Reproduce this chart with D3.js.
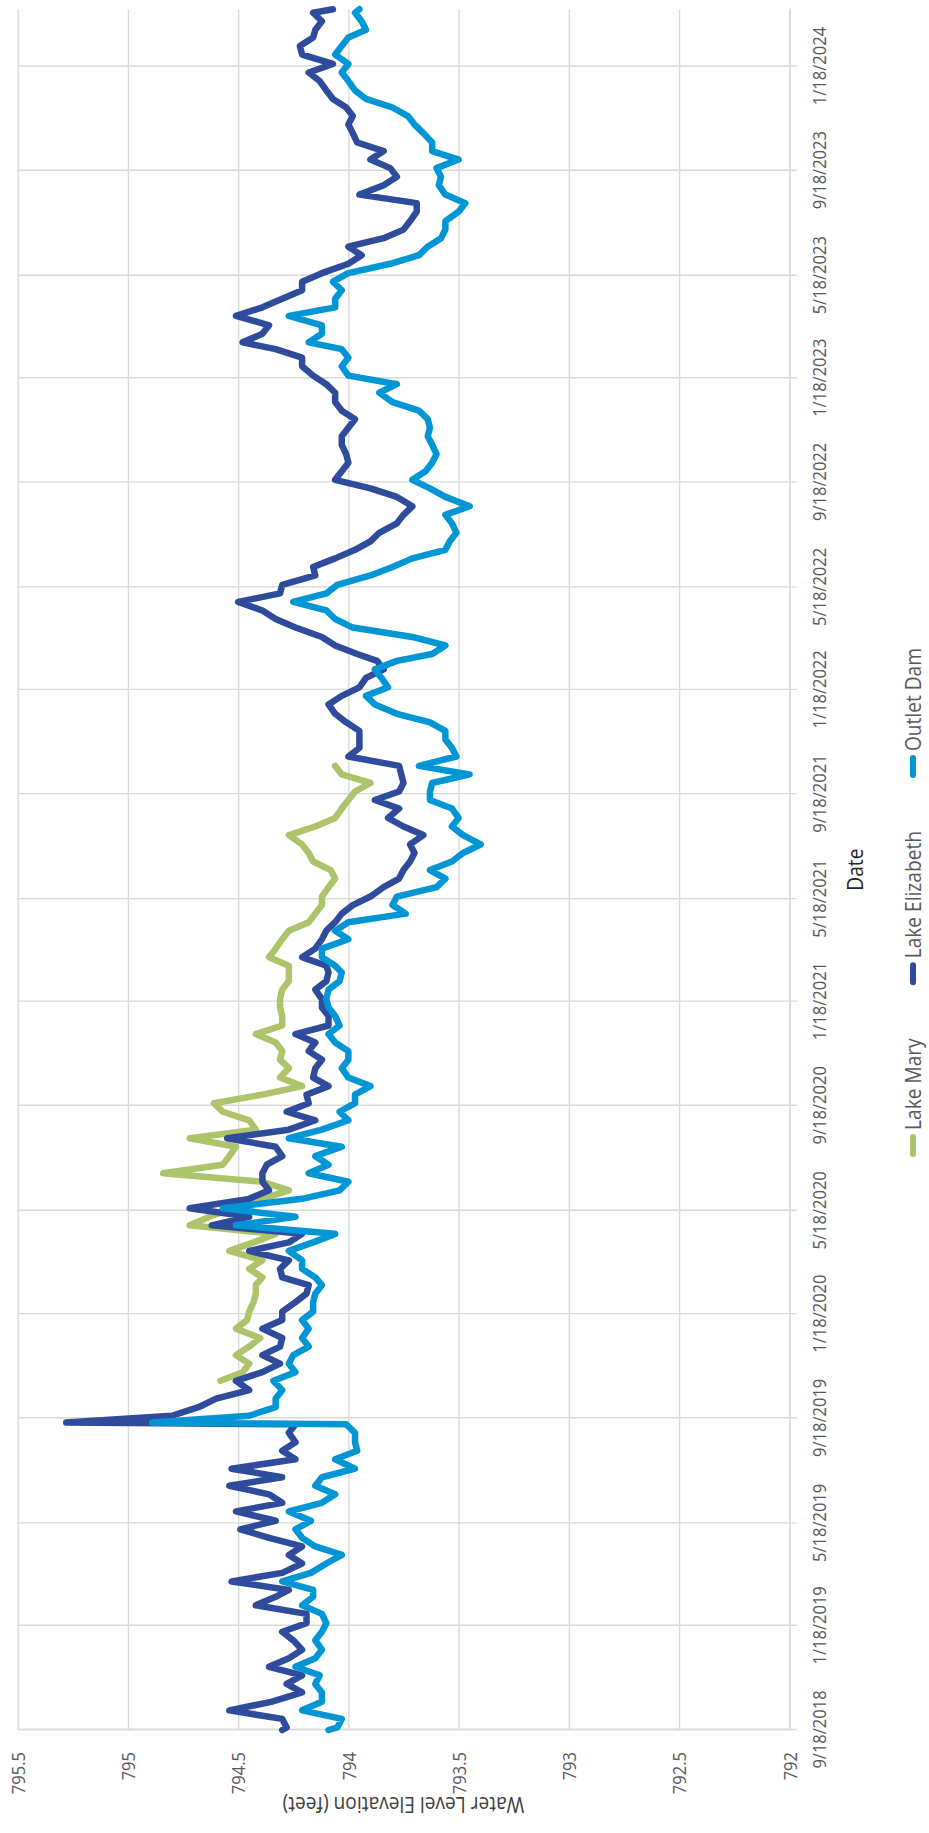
<!DOCTYPE html>
<html><head><meta charset="utf-8">
<script src="https://cdn.jsdelivr.net/npm/d3@7"></script>
<style>html,body{margin:0;padding:0;background:#fff;} svg{display:block}</style>
</head><body>
<svg id="chart" width="929" height="1833"></svg>
<script>
// ---------------- data ----------------
const seriesNames = ["Lake Mary", "Lake Elizabeth", "Outlet Dam"];
const dateDomain = ["2018-09-18", "2024-03-25"];
const valueDomain = [792, 795.5];
const valueTicks = [792, 792.5, 793, 793.5, 794, 794.5, 795, 795.5];
const dateTicks = ["2018-09-18","2019-01-18","2019-05-18","2019-09-18","2020-01-18","2020-05-18","2020-09-18",
  "2021-01-18","2021-05-18","2021-09-18","2022-01-18","2022-05-18","2022-09-18","2023-01-18","2023-05-18",
  "2023-09-18","2024-01-18"];

const dates = [
 "2018-09-18","2018-09-21","2018-10-01","2018-10-11","2018-10-21","2018-11-01","2018-11-11","2018-11-21","2018-12-01","2018-12-11","2018-12-21",
 "2019-01-01","2019-01-11","2019-01-21","2019-02-01","2019-02-11","2019-02-21","2019-03-01","2019-03-11","2019-03-21","2019-04-01","2019-04-11","2019-04-21",
 "2019-05-01","2019-05-11","2019-05-21","2019-06-01","2019-06-11","2019-06-21","2019-07-01","2019-07-11","2019-07-21","2019-08-01","2019-08-11","2019-08-21",
 "2019-09-01","2019-09-11","2019-09-13","2019-09-21","2019-10-01","2019-10-11","2019-10-21","2019-11-01","2019-11-11","2019-11-21","2019-12-01","2019-12-11","2019-12-21",
 "2020-01-01","2020-01-11","2020-01-21","2020-02-01","2020-02-11","2020-02-21","2020-03-01","2020-03-11","2020-03-21","2020-04-01","2020-04-11","2020-04-21",
 "2020-05-01","2020-05-11","2020-05-21","2020-06-01","2020-06-11","2020-06-21","2020-07-01","2020-07-11","2020-07-21","2020-08-01","2020-08-11","2020-08-21",
 "2020-09-01","2020-09-11","2020-09-21","2020-10-01","2020-10-11","2020-10-21","2020-11-01","2020-11-11","2020-11-21","2020-12-01","2020-12-11","2020-12-21",
 "2021-01-01","2021-01-11","2021-01-21","2021-02-01","2021-02-11","2021-02-21","2021-03-01","2021-03-11","2021-03-21","2021-04-01","2021-04-11","2021-04-21",
 "2021-05-01","2021-05-11","2021-05-21","2021-06-01","2021-06-11","2021-06-21","2021-07-01","2021-07-11","2021-07-21","2021-08-01","2021-08-11","2021-08-21",
 "2021-09-01","2021-09-11","2021-09-21","2021-10-01","2021-10-11","2021-10-21","2021-11-01","2021-11-11","2021-11-21","2021-12-01","2021-12-11","2021-12-21",
 "2022-01-01","2022-01-11","2022-01-21","2022-02-01","2022-02-11","2022-02-21","2022-03-01","2022-03-11","2022-03-21","2022-04-01","2022-04-11","2022-04-21",
 "2022-05-01","2022-05-11","2022-05-21","2022-06-01","2022-06-11","2022-06-21","2022-07-01","2022-07-11","2022-07-21","2022-08-01","2022-08-11","2022-08-21",
 "2022-09-01","2022-09-11","2022-09-21","2022-10-01","2022-10-11","2022-10-21","2022-11-01","2022-11-11","2022-11-21","2022-12-01","2022-12-11","2022-12-21",
 "2023-01-01","2023-01-11","2023-01-21","2023-02-01","2023-02-11","2023-02-21","2023-03-01","2023-03-11","2023-03-21","2023-04-01","2023-04-11","2023-04-21",
 "2023-05-01","2023-05-11","2023-05-21","2023-06-01","2023-06-11","2023-06-21","2023-07-01","2023-07-11","2023-07-21","2023-08-01","2023-08-11","2023-08-21",
 "2023-09-01","2023-09-11","2023-09-21","2023-10-01","2023-10-11","2023-10-21","2023-11-01","2023-11-11","2023-11-21","2023-12-01","2023-12-11","2023-12-21",
 "2024-01-01","2024-01-11","2024-01-21","2024-02-01","2024-02-11","2024-02-21","2024-03-01","2024-03-11","2024-03-21","2024-03-25"
];

const lakeMary = [
 null,null,null,null,null,null,null,null,null,null,null,
 null,null,null,null,null,null,null,null,null,null,null,null,null,null,null,null,null,null,null,null,null,null,null,null,
 null,null,null,null,null,null,null,794.58,794.48,794.45,794.51,794.45,794.40,
 794.51,794.46,794.45,794.43,794.42,794.42,794.39,794.45,794.39,794.54,794.43,794.33,
 794.72,794.63,794.52,794.39,794.27,794.39,794.84,794.57,794.54,794.51,794.72,794.42,
 794.45,794.57,794.61,794.39,794.21,794.31,794.27,794.31,794.30,794.33,794.42,794.30,
 794.30,794.31,794.31,794.30,794.27,794.27,794.27,794.36,794.33,794.30,794.27,794.18,
 794.15,794.12,794.12,794.09,794.06,794.08,794.16,794.18,794.21,794.27,794.15,794.06,
 794.03,794.00,793.97,793.90,794.03,794.06,null,null,null,null,null,null,
 null,null,null,null,null,null,null,null,null,null,null,null,null,null,null,null,null,null,
 null,null,null,null,null,null,null,null,null,null,null,null,null,null,null,null,null,null,
 null,null,null,null,null,null,null,null,null,null,null,null,null,null,null,null,null,null,
 null,null,null,null,null,null,null,null,null,null,null,null,null,null,null,null,null,null,
 null,null,null,null,null,null,null,null,null,null
];

const lakeElizabeth = [
 794.30,794.28,794.30,794.54,794.35,794.21,794.28,794.21,794.36,794.27,794.21,
 794.25,794.30,794.19,794.19,794.42,794.33,794.27,794.53,794.30,794.21,794.27,794.21,
 794.36,794.49,794.33,794.51,794.30,794.36,794.54,794.30,794.53,794.24,794.30,794.24,
 794.27,794.24,795.28,794.80,794.68,794.60,794.45,794.51,794.39,794.31,794.39,794.31,794.30,
 794.39,794.30,794.30,794.24,794.19,794.18,794.30,794.31,794.27,794.45,794.27,794.21,
 794.62,794.45,794.72,794.45,794.36,794.39,794.39,794.37,794.30,794.33,794.55,794.27,
 794.15,794.28,794.18,794.19,794.09,794.16,794.15,794.12,794.18,794.15,794.24,794.09,
 794.09,794.12,794.12,794.15,794.10,794.09,794.10,794.21,794.15,794.12,794.10,794.06,
 794.03,793.98,793.90,793.84,793.77,793.75,793.72,793.70,793.72,793.66,793.75,793.82,
 793.77,793.88,793.77,793.75,793.76,793.77,794.00,793.95,793.95,793.95,794.01,794.06,
 794.09,794.03,793.95,793.92,793.84,793.87,793.96,794.06,794.12,794.24,794.33,794.39,
 794.50,794.31,794.30,794.15,794.16,794.06,793.97,793.90,793.86,793.78,793.75,793.71,
 793.78,793.90,794.06,794.03,794.00,794.01,794.03,794.03,794.00,793.97,794.03,794.06,
 794.06,794.10,794.16,794.21,794.21,794.33,794.48,794.39,794.36,794.51,794.39,794.30,
 794.21,794.21,794.12,794.00,793.94,794.00,793.84,793.75,793.72,793.69,793.69,793.95,
 793.84,793.78,793.81,793.90,793.84,793.96,793.98,794.00,793.98,794.01,794.07,794.10,
 794.13,794.18,794.07,794.21,794.22,794.16,794.15,794.12,794.16,794.07
];

const outletDam = [
 794.09,794.05,794.03,794.21,794.12,794.12,794.15,794.13,794.24,794.15,794.12,
 794.15,794.12,794.10,794.12,794.21,794.16,794.16,794.30,794.17,794.10,794.03,794.15,
 794.21,794.24,794.17,794.27,794.12,794.06,794.15,794.12,793.97,794.06,793.96,793.97,
 793.97,794.01,794.89,794.45,794.33,794.33,794.30,794.34,794.24,794.27,794.25,794.18,794.21,
 794.18,794.21,794.16,794.16,794.15,794.12,794.15,794.21,794.21,794.27,794.16,794.06,
 794.51,794.24,794.57,794.21,794.04,794.00,794.18,794.09,794.15,794.03,794.27,794.12,
 794.00,794.04,793.97,793.97,793.90,794.00,794.03,794.00,794.00,794.06,794.09,794.04,
 794.06,794.09,794.10,794.09,794.04,794.03,794.06,794.12,794.12,794.00,794.06,794.00,
 793.74,793.80,793.78,793.60,793.56,793.63,793.53,793.48,793.40,793.48,793.53,793.50,
 793.53,793.63,793.63,793.62,793.45,793.68,793.51,793.53,793.56,793.56,793.63,793.78,
 793.88,793.92,793.82,793.85,793.88,793.78,793.62,793.56,793.71,793.98,794.06,794.10,
 794.25,794.10,794.05,793.90,793.80,793.71,793.56,793.54,793.51,793.53,793.56,793.45,
 793.56,793.63,793.71,793.65,793.62,793.60,793.62,793.64,793.63,793.64,793.68,793.80,
 793.86,793.78,794.00,794.03,794.00,794.03,794.18,794.12,794.12,794.27,794.06,794.06,
 794.03,794.07,794.00,793.81,793.68,793.64,793.58,793.56,793.56,793.50,793.47,793.56,
 793.59,793.58,793.60,793.50,793.62,793.62,793.66,793.70,793.73,793.80,793.92,793.97,
 794.00,794.03,794.00,794.06,794.03,794.00,793.92,793.94,793.97,793.95
];

// ---------------- drawing ----------------
const seriesValues = [lakeMary, lakeElizabeth, outletDam];
const seriesColors = ["#AEC46A", "#2F4B9C", "#0096D6"];

const W = 1833;            // chart drawn in an unrotated 1833 x 929 frame, then turned
const plot = {left: 103, right: 1823.7, top: 17.7, bottom: 789.3};
const FONT = "'Open Sans', 'Noto Sans', sans-serif";
const SX = 0.87;           // narrow glyphs as in the reference
const GRID = "#d9d9d9";

const parse = d3.utcParse("%Y-%m-%d");
const x = d3.scaleUtc().domain(dateDomain.map(parse)).range([plot.left, plot.right]);
const y = d3.scaleLinear().domain(valueDomain).range([plot.bottom, plot.top]);

const svg = d3.select("#chart");
svg.append("rect").attr("width", 929).attr("height", 1833).attr("fill", "#fff");
const g = svg.append("g").attr("transform", `translate(0,${W}) rotate(-90)`);

// value axis + horizontal gridlines
const gy = g.append("g").attr("transform", `translate(${plot.left},0)`)
  .call(d3.axisLeft(y).tickValues(valueTicks).tickFormat(d => String(d))
    .tickSizeInner(-(plot.right - plot.left)).tickSizeOuter(0).tickPadding(0));
gy.select(".domain").attr("stroke", GRID).attr("stroke-width", 1.4);
gy.selectAll(".tick line").attr("stroke", GRID).attr("stroke-width", 1.4);
gy.selectAll(".tick text")
  .attr("x", null).attr("dy", null)
  .attr("transform", `translate(${81 - plot.left},6.8) scale(${SX},1)`)
  .attr("text-anchor", "end").attr("fill", "#595959")
  .style("font-family", FONT).style("font-size", "19px").style("font-weight", 400);

// date axis + vertical gridlines
const gx = g.append("g").attr("transform", `translate(0,${plot.bottom})`)
  .call(d3.axisBottom(x).tickValues(dateTicks.map(parse)).tickFormat(d3.utcFormat("%-m/%-d/%Y"))
    .tickSizeInner(-(plot.bottom - plot.top)).tickSizeOuter(0));
gx.select(".domain").attr("stroke", GRID).attr("stroke-width", 1.4);
gx.selectAll(".tick line").attr("stroke", GRID).attr("stroke-width", 1.4).attr("y1", 7.4);
gx.selectAll(".tick text")
  .attr("y", null).attr("dy", null)
  .attr("transform", `translate(0,${826 - plot.bottom}) scale(${SX},1)`)
  .attr("text-anchor", "middle").attr("fill", "#595959")
  .style("font-family", FONT).style("font-size", "19px").style("font-weight", 400);

// series lines
const line = d3.line().defined(d => d[1] != null).x(d => x(d[0])).y(d => y(d[1]));
seriesValues.forEach((vals, i) => {
  const pts = dates.map((d, j) => [parse(d), vals[j]]);
  g.append("path").attr("d", line(pts))
    .attr("fill", "none").attr("stroke", seriesColors[i]).attr("stroke-width", 6.5)
    .attr("stroke-linejoin", "round").attr("stroke-linecap", "round");
});

// axis titles
g.append("text")
  .attr("transform", `translate(36,${(plot.top + plot.bottom) / 2}) rotate(-90) scale(${SX},1)`)
  .attr("text-anchor", "middle").attr("fill", "#404040")
  .style("font-family", FONT).style("font-size", "22px").style("font-weight", 400)
  .text("Water Level Elevation (feet)");
g.append("text")
  .attr("transform", `translate(${(plot.left + plot.right) / 2},863) scale(${SX},1)`)
  .attr("text-anchor", "middle").attr("fill", "#262626")
  .style("font-family", FONT).style("font-size", "22px").style("font-weight", 400)
  .text("Date");

// legend
const leg = g.append("g");
const MK = 17, MGAP = 7, IGAP = 56;
const items = seriesNames.map((name, i) => {
  const it = leg.append("g");
  it.append("line").attr("x1", 0).attr("x2", MK).attr("y1", 913).attr("y2", 913)
    .attr("stroke", seriesColors[i]).attr("stroke-width", 6).attr("stroke-linecap", "round");
  const t = it.append("text").attr("transform", `translate(${MK + MGAP},921) scale(${SX},1)`)
    .attr("fill", "#595959").style("font-family", FONT).style("font-size", "22px").style("font-weight", 400)
    .text(name);
  return {g: it, w: MK + MGAP + t.node().getComputedTextLength() * SX};
});
const total = d3.sum(items, d => d.w) + IGAP * (items.length - 1);
let cx = 932 - total / 2;
items.forEach(d => { d.g.attr("transform", `translate(${cx},0)`); cx += d.w + IGAP; });
</script>
</body></html>
